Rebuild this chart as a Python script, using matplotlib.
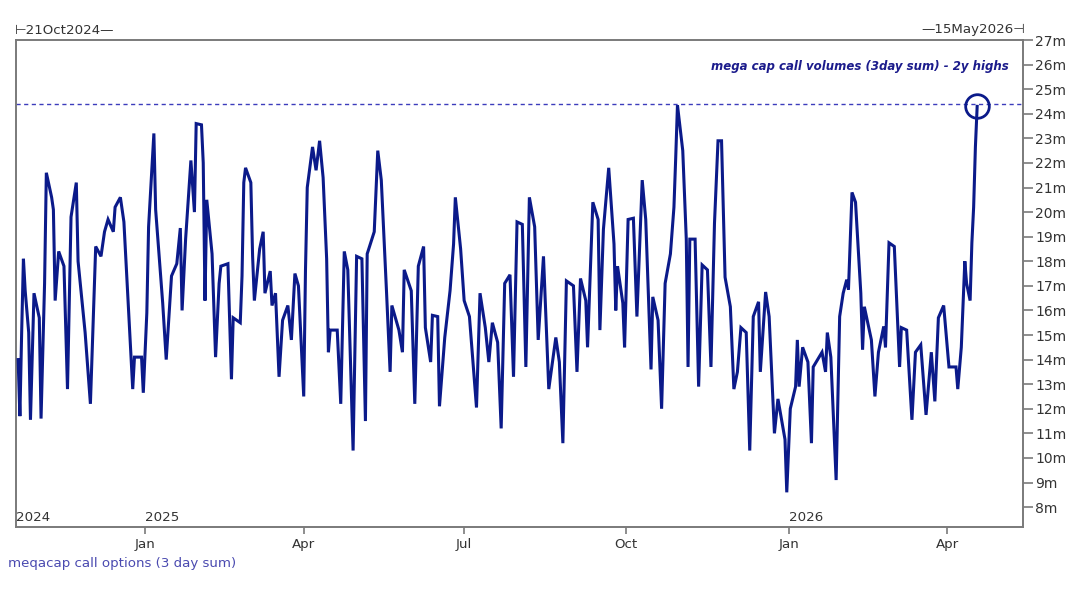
import matplotlib
matplotlib.use("Agg")
import matplotlib.pyplot as plt
import pandas as pd

# ---------------- data ----------------
dates = [
    "2024-10-21", "2024-10-22", "2024-10-23", "2024-10-24", "2024-10-25", "2024-10-27", "2024-10-28", "2024-10-30",
    "2024-11-02", "2024-11-03", "2024-11-05", "2024-11-06", "2024-11-09", "2024-11-10", "2024-11-11", "2024-11-13",
    "2024-11-16", "2024-11-18", "2024-11-20", "2024-11-23", "2024-11-24", "2024-11-28", "2024-12-01", "2024-12-04",
    "2024-12-07", "2024-12-09", "2024-12-11", "2024-12-14", "2024-12-15", "2024-12-18", "2024-12-20", "2024-12-25",
    "2024-12-26", "2024-12-30", "2024-12-31", "2025-01-02", "2025-01-03", "2025-01-06", "2025-01-07", "2025-01-11",
    "2025-01-13", "2025-01-16", "2025-01-19", "2025-01-21", "2025-01-22", "2025-01-24", "2025-01-27", "2025-01-29",
    "2025-01-30", "2025-02-02", "2025-02-03", "2025-02-04", "2025-02-05", "2025-02-08", "2025-02-10", "2025-02-12",
    "2025-02-13", "2025-02-17", "2025-02-19", "2025-02-20", "2025-02-24", "2025-02-25", "2025-02-26", "2025-02-27",
    "2025-03-02", "2025-03-03", "2025-03-04", "2025-03-07", "2025-03-09", "2025-03-10", "2025-03-13", "2025-03-14",
    "2025-03-16", "2025-03-18", "2025-03-20", "2025-03-23", "2025-03-25", "2025-03-27", "2025-03-29", "2025-04-01",
    "2025-04-02", "2025-04-03", "2025-04-06", "2025-04-08", "2025-04-10", "2025-04-12", "2025-04-14", "2025-04-15",
    "2025-04-16", "2025-04-20", "2025-04-22", "2025-04-24", "2025-04-26", "2025-04-29", "2025-05-01", "2025-05-04",
    "2025-05-06", "2025-05-07", "2025-05-11", "2025-05-13", "2025-05-15", "2025-05-18", "2025-05-20", "2025-05-21",
    "2025-05-25", "2025-05-27", "2025-05-28", "2025-06-01", "2025-06-03", "2025-06-05", "2025-06-08", "2025-06-09",
    "2025-06-12", "2025-06-13", "2025-06-16", "2025-06-17", "2025-06-20", "2025-06-23", "2025-06-25", "2025-06-26",
    "2025-06-29", "2025-07-01", "2025-07-04", "2025-07-08", "2025-07-10", "2025-07-13", "2025-07-15", "2025-07-17",
    "2025-07-20", "2025-07-22", "2025-07-24", "2025-07-27", "2025-07-29", "2025-07-31", "2025-08-03", "2025-08-05",
    "2025-08-07", "2025-08-10", "2025-08-12", "2025-08-15", "2025-08-18", "2025-08-22", "2025-08-24", "2025-08-26",
    "2025-08-28", "2025-09-01", "2025-09-03", "2025-09-05", "2025-09-08", "2025-09-09", "2025-09-12", "2025-09-15",
    "2025-09-16", "2025-09-18", "2025-09-21", "2025-09-24", "2025-09-25", "2025-09-26", "2025-09-29", "2025-09-30",
    "2025-10-02", "2025-10-05", "2025-10-07", "2025-10-10", "2025-10-12", "2025-10-15", "2025-10-16", "2025-10-19",
    "2025-10-21", "2025-10-23", "2025-10-26", "2025-10-28", "2025-10-29", "2025-10-30", "2025-11-02", "2025-11-04",
    "2025-11-05", "2025-11-06", "2025-11-09", "2025-11-11", "2025-11-13", "2025-11-16", "2025-11-18", "2025-11-20",
    "2025-11-22", "2025-11-24", "2025-11-26", "2025-11-29", "2025-12-01", "2025-12-03", "2025-12-05", "2025-12-08",
    "2025-12-10", "2025-12-12", "2025-12-15", "2025-12-16", "2025-12-19", "2025-12-21", "2025-12-24", "2025-12-26",
    "2025-12-29", "2025-12-30", "2025-12-31", "2026-01-02", "2026-01-05", "2026-01-06", "2026-01-07", "2026-01-09",
    "2026-01-12", "2026-01-14", "2026-01-15", "2026-01-20", "2026-01-22", "2026-01-23", "2026-01-25", "2026-01-28",
    "2026-01-30", "2026-02-01", "2026-02-03", "2026-02-04", "2026-02-06", "2026-02-08", "2026-02-11", "2026-02-12",
    "2026-02-13", "2026-02-17", "2026-02-19", "2026-02-21", "2026-02-24", "2026-02-25", "2026-02-27", "2026-03-02",
    "2026-03-05", "2026-03-06", "2026-03-09", "2026-03-12", "2026-03-14", "2026-03-17", "2026-03-20", "2026-03-23",
    "2026-03-25", "2026-03-27", "2026-03-30", "2026-04-02", "2026-04-06", "2026-04-07", "2026-04-09", "2026-04-11",
    "2026-04-12", "2026-04-14", "2026-04-15", "2026-04-16", "2026-04-17", "2026-04-18",
]

call_volume_m = [
    14.0, 11.7, 15.1, 18.1, 16.8, 15.1, 11.55, 16.7,
    15.7, 11.6, 17.1, 21.6, 20.6, 20.1, 16.4, 18.4,
    17.8, 12.8, 19.8, 21.2, 18.0, 15.1, 12.2, 18.6,
    18.2, 19.2, 19.7, 19.2, 20.2, 20.6, 19.6, 12.8,
    14.1, 14.1, 12.65, 15.9, 19.4, 23.2, 20.1, 16.3,
    14.0, 17.4, 17.9, 19.35, 16.0, 18.9, 22.1, 20.0,
    23.6, 23.55, 22.0, 16.4, 20.5, 18.3, 14.1, 17.1,
    17.8, 17.9, 13.2, 15.7, 15.5, 17.4, 21.2, 21.8,
    21.2, 18.2, 16.4, 18.5, 19.2, 16.7, 17.6, 16.2,
    16.7, 13.3, 15.6, 16.2, 14.8, 17.5, 17.0, 12.5,
    17.65, 21.0, 22.65, 21.7, 22.9, 21.4, 18.1, 14.3,
    15.2, 15.2, 12.2, 18.4, 17.65, 10.3, 18.2, 18.1,
    11.5, 18.3, 19.2, 22.5, 21.3, 16.7, 13.5, 16.2,
    15.2, 14.3, 17.65, 16.8, 12.2, 17.8, 18.6, 15.3,
    13.9, 15.8, 15.75, 12.1, 14.9, 16.8, 18.7, 20.6,
    18.5, 16.4, 15.75, 12.05, 16.7, 15.3, 13.9, 15.5,
    14.7, 11.2, 17.1, 17.45, 13.3, 19.6, 19.5, 13.7,
    20.6, 19.4, 14.8, 18.2, 12.8, 14.9, 13.9, 10.6,
    17.2, 17.0, 13.5, 17.3, 16.4, 14.5, 20.4, 19.7,
    15.2, 19.3, 21.8, 18.7, 16.0, 17.8, 16.3, 14.5,
    19.7, 19.75, 15.75, 21.3, 19.7, 13.6, 16.55, 15.6,
    12.0, 17.1, 18.3, 20.2, 22.2, 24.35, 22.5, 18.9,
    13.7, 18.9, 18.9, 12.9, 17.85, 17.65, 13.7, 19.55,
    22.9, 22.9, 17.35, 16.15, 12.8, 13.5, 15.3, 15.1,
    10.3, 15.75, 16.35, 13.5, 16.75, 15.75, 11.0, 12.4,
    11.15, 10.75, 8.6, 12.0, 12.9, 14.8, 12.9, 14.5,
    13.9, 10.6, 13.7, 14.3, 13.5, 15.1, 14.1, 9.1,
    15.75, 16.7, 17.25, 16.85, 20.8, 20.4, 16.7, 14.4,
    16.15, 14.8, 12.5, 14.3, 15.35, 14.5, 18.75, 18.6,
    13.7, 15.3, 15.2, 11.55, 14.3, 14.6, 11.75, 14.3,
    12.3, 15.7, 16.2, 13.7, 13.7, 12.8, 14.5, 18.0,
    17.1, 16.4, 18.75, 20.2, 22.65, 24.3,
]

two_year_high_m = 24.4
y_ticks = list(range(8, 28))
y_tick_labels = [f"{v}m" for v in y_ticks]
month_ticks = ["2025-01-01", "2025-04-01", "2025-07-01", "2025-10-01", "2026-01-01", "2026-04-01"]
month_labels = ["Jan", "Apr", "Jul", "Oct", "Jan", "Apr"]
year_positions = ["2024-10-20", "2025-01-01", "2026-01-01"]
year_labels = ["2024", "2025", "2026"]
range_start_label = "\u22a221Oct2024\u2014"
range_end_label = "\u201415May2026\u22a3"
annotation_text = "mega cap call volumes (3day sum) - 2y highs"
legend_text = "meqacap call options (3 day sum)"

# ---------------- drawing ----------------
plt.rcParams["font.family"] = ["DejaVu Sans"]
LINE = "#0b1a8a"
GRID_GREY = "#7a7a7a"
TEXT = "#333333"
FS = 9.6

x = pd.to_datetime(dates)

fig = plt.figure(figsize=(10.8, 6.0), dpi=100)
ax = fig.add_axes([16 / 1080, 1 - 527 / 600, (1023 - 16) / 1080, (527 - 40) / 600])

ax.axhline(two_year_high_m, color="#3c3cbc", lw=1.0, linestyle=(0, (3, 2.5)), zorder=1)
ax.plot(x, call_volume_m, color=LINE, lw=2.2, solid_joinstyle="miter", zorder=3)
ax.plot([x[-1]], [call_volume_m[-1]], marker="o", ms=17, mfc="none", mec=LINE, mew=2.0, zorder=4)

ax.set_xlim(pd.Timestamp("2024-10-19 19:00"), pd.Timestamp("2026-05-14"))
ax.set_ylim(7.19, 27)

for s in ax.spines.values():
    s.set_color(GRID_GREY)
    s.set_linewidth(1.4)

ax.yaxis.tick_right()
ax.set_yticks(y_ticks)
ax.set_yticklabels(y_tick_labels)
ax.tick_params(axis="y", direction="out", length=7, width=1.2, color=GRID_GREY,
               labelsize=FS + 0.4, labelcolor=TEXT, pad=2)

ax.set_xticks(pd.to_datetime(month_ticks))
ax.set_xticklabels(month_labels)
ax.tick_params(axis="x", direction="out", length=5, width=1.2, color=GRID_GREY,
               labelsize=FS, labelcolor=TEXT, pad=3)

for pos, lab in zip(pd.to_datetime(year_positions), year_labels):
    ax.text(pos, 0.006, lab, transform=ax.get_xaxis_transform(), ha="left", va="bottom",
            fontsize=FS, color=TEXT)

ax.text(0.986, 0.945, annotation_text, transform=ax.transAxes, ha="right", va="center",
        fontsize=8.5, fontweight="bold", fontstyle="italic", color="#1c1c8c")

fig.text(15 / 1080, 1 - 30 / 600, range_start_label, ha="left", va="center", fontsize=FS, color=TEXT)
fig.text(1025 / 1080, 1 - 30 / 600, range_end_label, ha="right", va="center", fontsize=FS, color=TEXT)
fig.text(8 / 1080, 1 - 563 / 600, legend_text, ha="left", va="center", fontsize=FS, color="#4a4ab0")

fig.savefig("out.png", dpi=100)
